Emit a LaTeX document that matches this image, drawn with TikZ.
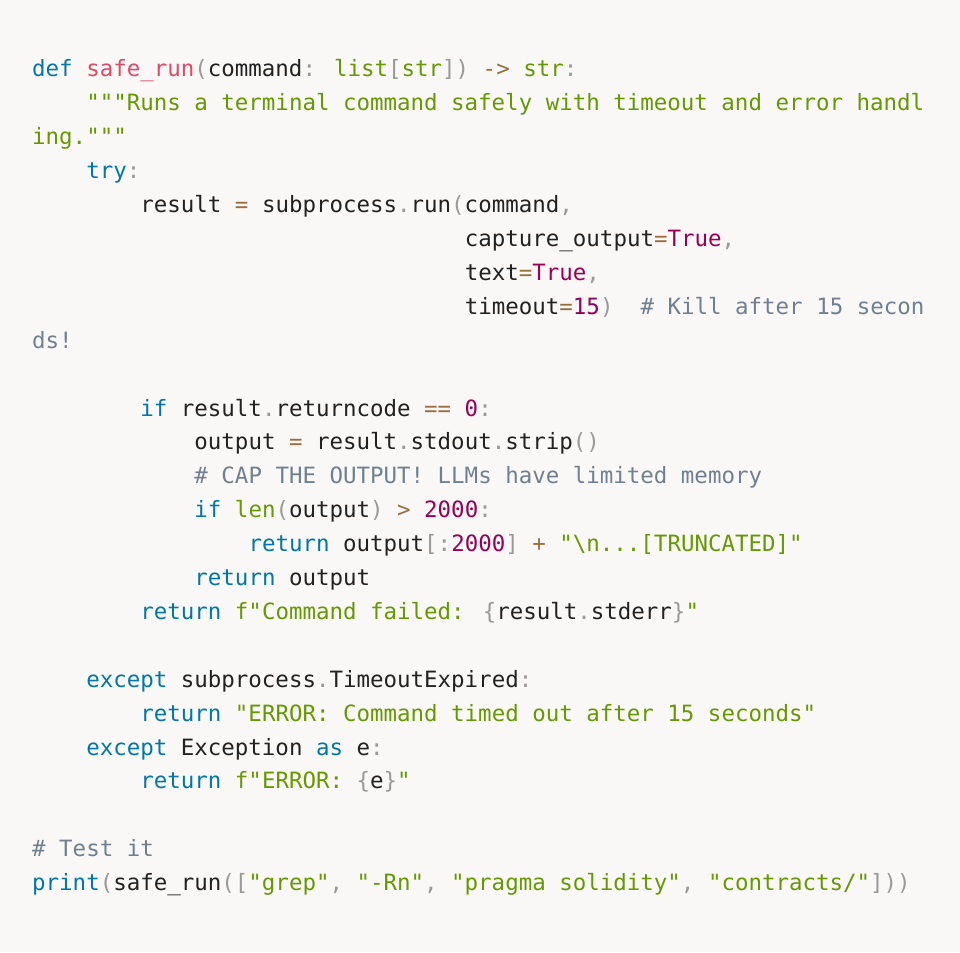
\documentclass[tikz,border=0pt]{standalone}
\usepackage{fontspec}
\newfontfamily\codefont{DejaVu Sans Mono}
\definecolor{bgc}{HTML}{F9F8F7}
\definecolor{txc}{HTML}{222222}
\definecolor{kwc}{HTML}{0077AA}
\definecolor{fnc}{HTML}{DD4A68}
\definecolor{stc}{HTML}{669900}
\definecolor{cmc}{HTML}{708090}
\definecolor{nuc}{HTML}{990055}
\definecolor{opc}{HTML}{9A6E3A}
\definecolor{puc}{HTML}{999999}
\newcommand\xk[1]{\textcolor{kwc}{#1}}
\newcommand\xf[1]{\textcolor{fnc}{#1}}
\newcommand\xs[1]{\textcolor{stc}{#1}}
\newcommand\xc[1]{\textcolor{cmc}{#1}}
\newcommand\xn[1]{\textcolor{nuc}{#1}}
\newcommand\xo[1]{\textcolor{opc}{#1}}
\newcommand\xp[1]{\textcolor{puc}{#1}}
\newcommand\CL[4]{\node[codeline] (#1) at ({(32+13.52*#3)*1pt},{-(77+33.9*(#2-1))*1pt}) {#4};}
\tikzset{codeline/.style={anchor=base west,inner sep=0pt,text=txc,font=\codefont\fontsize{22.45pt}{27pt}\selectfont}}
\begin{document}
\begin{tikzpicture}
\fill[bgc] (0,0) rectangle (960pt,-952pt);
\useasboundingbox (0,0) rectangle (960pt,-952pt);
\CL{l1}{1}{0}{\xk{def} \xf{safe\_run}\xp{(}command\xp{:} \xs{list}\xp{[}\xs{str}\xp{])} \xo{->} \xs{str}\xp{:}}
\CL{l2}{2}{4}{\xs{"""Runs a terminal command safely with timeout and error handl}}
\CL{l3}{3}{0}{\xs{ing."""}}
\CL{l4}{4}{4}{\xk{try}\xp{:}}
\CL{l5}{5}{8}{result \xo{=} subprocess\xp{.}run\xp{(}command\xp{,}}
\CL{l6}{6}{32}{capture\_output\xo{=}\xn{True}\xp{,}}
\CL{l7}{7}{32}{text\xo{=}\xn{True}\xp{,}}
\CL{l8}{8}{32}{timeout\xo{=}\xn{15}\xp{)}\ \ \xc{\# Kill after 15 secon}}
\CL{l9}{9}{0}{\xc{ds!}}
\CL{l11}{11}{8}{\xk{if} result\xp{.}returncode \xo{==} \xn{0}\xp{:}}
\CL{l12}{12}{12}{output \xo{=} result\xp{.}stdout\xp{.}strip\xp{()}}
\CL{l13}{13}{12}{\xc{\# CAP THE OUTPUT! LLMs have limited memory}}
\CL{l14}{14}{12}{\xk{if} \xs{len}\xp{(}output\xp{)} \xo{>} \xn{2000}\xp{:}}
\CL{l15}{15}{16}{\xk{return} output\xp{[:}\xn{2000}\xp{]} \xo{+} \xs{"\textbackslash n...[TRUNCATED]"}}
\CL{l16}{16}{12}{\xk{return} output}
\CL{l17}{17}{8}{\xk{return} \xs{f"Command failed: }\xp{\{}result\xp{.}stderr\xp{\}}\xs{"}}
\CL{l19}{19}{4}{\xk{except} subprocess\xp{.}TimeoutExpired\xp{:}}
\CL{l20}{20}{8}{\xk{return} \xs{"ERROR: Command timed out after 15 seconds"}}
\CL{l21}{21}{4}{\xk{except} Exception \xk{as} e\xp{:}}
\CL{l22}{22}{8}{\xk{return} \xs{f"ERROR: }\xp{\{}e\xp{\}}\xs{"}}
\CL{l24}{24}{0}{\xc{\# Test it}}
\CL{l25}{25}{0}{\xk{print}\xp{(}safe\_run\xp{([}\xs{"grep"}\xp{,} \xs{"-Rn"}\xp{,} \xs{"pragma solidity"}\xp{,} \xs{"contracts/"}\xp{]))}}
\end{tikzpicture}
\end{document}
